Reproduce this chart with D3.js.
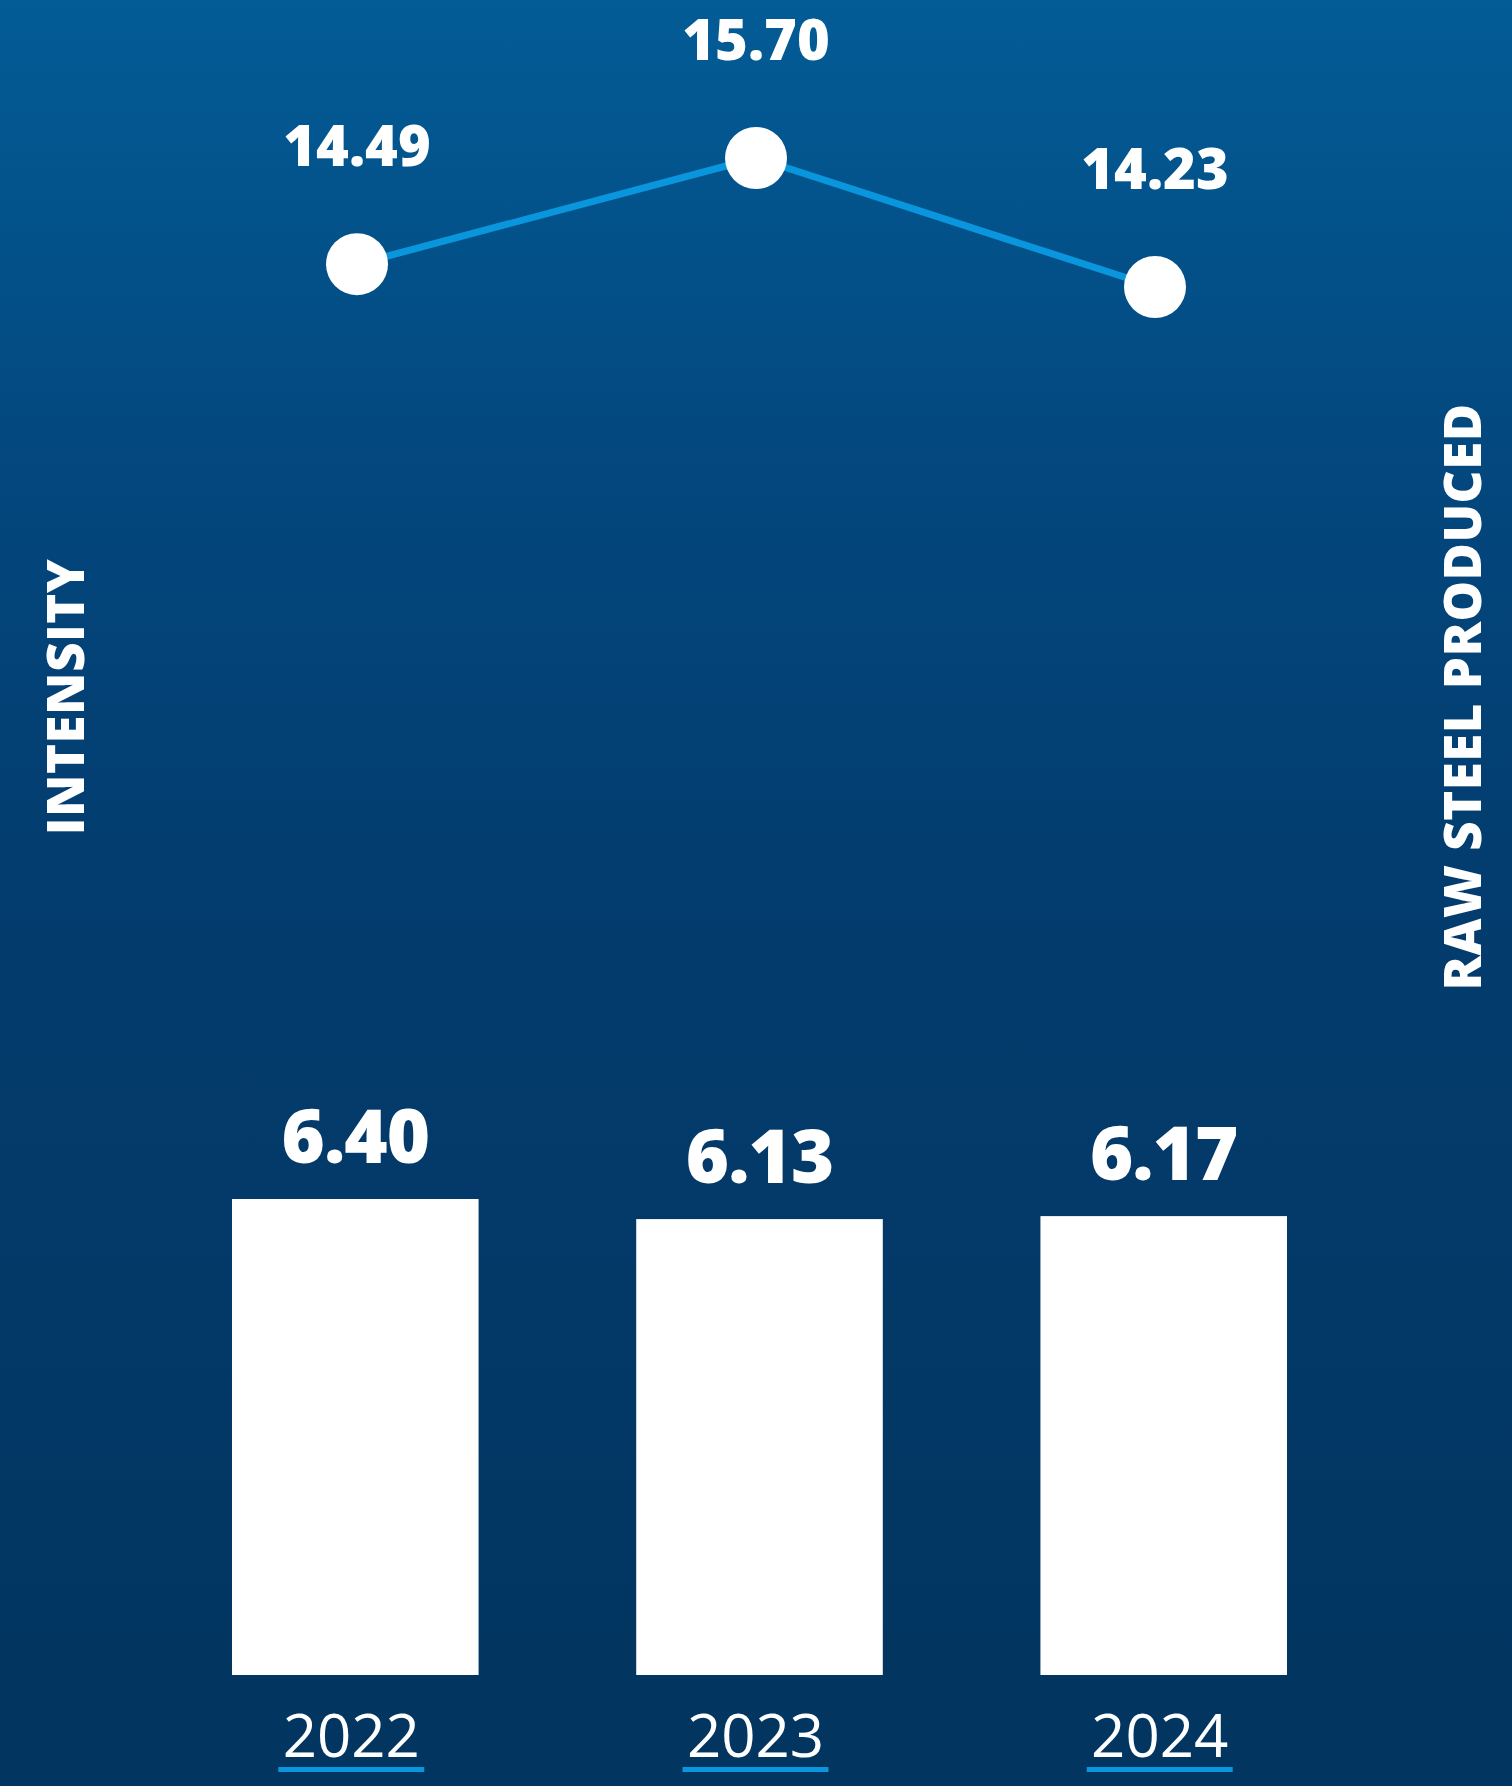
<!DOCTYPE html>
<html>
<head>
<meta charset="utf-8">
<script src="https://cdn.jsdelivr.net/npm/d3@7"></script>
<style>
    html, body { margin: 0; padding: 0; background: #03365f; }
    svg { display: block; }
</style>
</head>
<body>
<svg id="chart"></svg>
<script>
const years = ["2022", "2023", "2024"];
const intensity = [14.49, 15.70, 14.23];
const rawSteel = [6.40, 6.13, 6.17];
const leftTitle = "INTENSITY";
const rightTitle = "RAW STEEL PRODUCED";

const width = 1512;
const height = 1786;

const svg = d3.select("#chart")
    .attr("width", width)
    .attr("height", height);

// background gradient
const defs = svg.append("defs");
const grad = defs.append("linearGradient")
    .attr("id", "bg")
    .attr("x1", 0).attr("y1", 0)
    .attr("x2", 0).attr("y2", 1);
grad.append("stop").attr("offset", "0%").attr("stop-color", "#035c96");
grad.append("stop").attr("offset", "25%").attr("stop-color", "#03487f");
grad.append("stop").attr("offset", "50%").attr("stop-color", "#033c6e");
grad.append("stop").attr("offset", "100%").attr("stop-color", "#02355f");

svg.append("rect")
    .attr("width", width)
    .attr("height", height)
    .attr("fill", "url(#bg)");

const bold = "'Open Sans', 'Liberation Sans', sans-serif";

// scales
const x = d3.scaleBand()
    .domain(years)
    .range([232, 1287])
    .paddingInner(0.39)
    .paddingOuter(0);

const yBar = d3.scaleLinear()
    .domain([0, 6.40])
    .range([1675, 1199]);

const xLine = d3.scalePoint()
    .domain(years)
    .range([357, 1155]);

const yLine = d3.scaleLinear()
    .domain([14.23, 15.70])
    .range([287, 158]);

const bars = years.map((y, i) => ({year: y, value: rawSteel[i]}));
const points = years.map((y, i) => ({year: y, value: intensity[i]}));

// bars
svg.append("g")
    .selectAll("rect")
    .data(bars)
    .enter()
    .append("rect")
    .attr("x", d => x(d.year))
    .attr("y", d => yBar(d.value))
    .attr("width", x.bandwidth())
    .attr("height", d => yBar(0) - yBar(d.value))
    .attr("fill", "#ffffff");

svg.append("g")
    .selectAll("text")
    .data(bars)
    .enter()
    .append("text")
    .attr("x", d => x(d.year) + x.bandwidth() / 2)
    .attr("y", d => yBar(d.value) - 36)
    .attr("text-anchor", "middle")
    .attr("font-family", bold)
    .attr("font-weight", 800)
    .attr("font-size", "74px")
    .attr("letter-spacing", "-1px")
    .attr("fill", "#ffffff")
    .text(d => d.value.toFixed(2));

// year labels with underline
const yearG = svg.append("g")
    .selectAll("g")
    .data(years)
    .enter()
    .append("g")
    .attr("transform", d => `translate(${x(d) + x.bandwidth() / 2 - 4},${yBar(0)})`);

yearG.append("text")
    .attr("y", 82)
    .attr("text-anchor", "middle")
    .attr("font-family", bold)
    .attr("font-weight", 400)
    .attr("font-size", "60px")
    .attr("fill", "#ffffff")
    .text(d => d);

yearG.append("rect")
    .attr("x", -73)
    .attr("y", 92)
    .attr("width", 146)
    .attr("height", 5)
    .attr("fill", "#0a96dc");

// line
const line = d3.line()
    .x(d => xLine(d.year))
    .y(d => yLine(d.value));

svg.append("path")
    .datum(points)
    .attr("d", line)
    .attr("fill", "none")
    .attr("stroke", "#0a96dc")
    .attr("stroke-width", 7);

svg.append("g")
    .selectAll("circle")
    .data(points)
    .enter()
    .append("circle")
    .attr("cx", d => xLine(d.year))
    .attr("cy", d => yLine(d.value))
    .attr("r", 31)
    .attr("fill", "#ffffff");

svg.append("g")
    .selectAll("text")
    .data(points)
    .enter()
    .append("text")
    .attr("x", d => xLine(d.year))
    .attr("y", d => yLine(d.value) - 98)
    .attr("text-anchor", "middle")
    .attr("font-family", bold)
    .attr("font-weight", 800)
    .attr("font-size", "56px")
    .attr("fill", "#ffffff")
    .text(d => d.value.toFixed(2));

// side titles
svg.append("text")
    .attr("transform", "translate(84,697) rotate(-90)")
    .attr("text-anchor", "middle")
    .attr("font-family", bold)
    .attr("font-weight", 800)
    .attr("font-size", "51px")
    .attr("letter-spacing", "0.5px")
    .attr("fill", "#ffffff")
    .text(leftTitle);

svg.append("text")
    .attr("transform", "translate(1481,697) rotate(-90)")
    .attr("text-anchor", "middle")
    .attr("font-family", bold)
    .attr("font-weight", 800)
    .attr("font-size", "51px")
    .attr("letter-spacing", "0.5px")
    .attr("fill", "#ffffff")
    .text(rightTitle);
</script>
</body>
</html>
